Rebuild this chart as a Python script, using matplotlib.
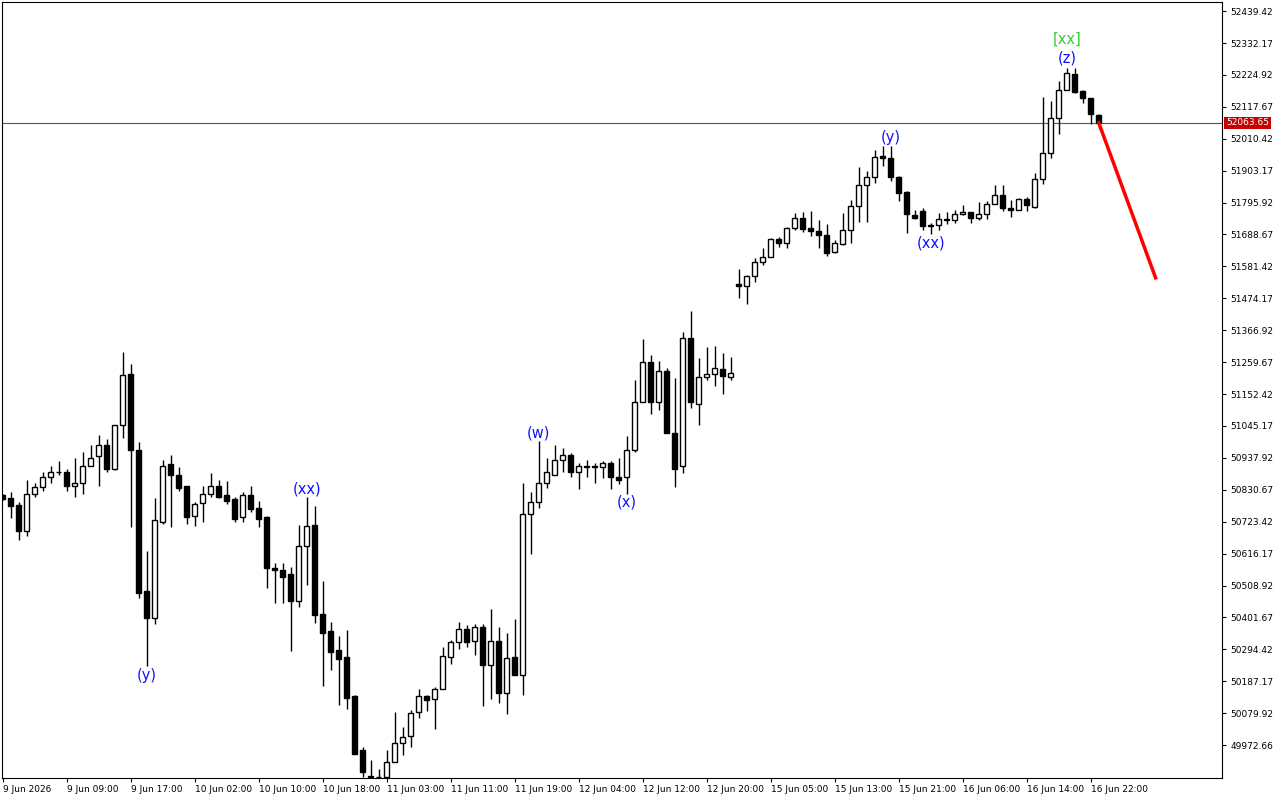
import matplotlib
matplotlib.use("Agg")
import matplotlib.pyplot as plt
from matplotlib.patches import Rectangle

# Hourly candles.
opens = [50812, 50802, 50778, 50691, 50818, 50839, 50875, 50889, 50889, 50845,
         50852, 50912, 50943, 50980, 50899, 51050, 51221, 50966, 50490, 50399,
         50724, 50916, 50882, 50845, 50741, 50785, 50818, 50845, 50812, 50798,
         50738, 50812, 50768, 50738, 50567, 50560, 50547, 50456, 50641, 50711,
         50412, 50355, 50292, 50268, 50137, 49956, 49870, 49864, 49864, 49916,
         49980, 50003, 50083, 50137, 50127, 50161, 50268, 50318, 50362, 50322,
         50369, 50241, 50322, 50147, 50268, 50208, 50748, 50788, 50852, 50879,
         50932, 50946, 50892, 50912, 50912, 50906, 50919, 50875, 50872, 50966,
         51124, 51261, 51127, 51231, 51023, 50912, 51342, 51120, 51211, 51221,
         51238, 51211, 51523, 51516, 51550, 51597, 51614, 51674, 51661, 51711,
         51745, 51711, 51701, 51688, 51631, 51657, 51704, 51785, 51855, 51882,
         51953, 51946, 51882, 51832, 51755, 51768, 51721, 51721, 51741, 51738,
         51758, 51765, 51745, 51758, 51792, 51822, 51778, 51772, 51808, 51782,
         51876, 51963, 52080, 52174, 52228, 52171, 52148, 52090]
highs = [50815, 50822, 50788, 50862, 50855, 50889, 50912, 50929, 50899, 50939,
         50956, 50980, 51016, 51000, 51050, 51295, 51255, 50990, 50624, 50802,
         50932, 50946, 50906, 50845, 50788, 50845, 50886, 50862, 50859, 50805,
         50822, 50842, 50792, 50741, 50584, 50584, 50570, 50711, 50808, 50775,
         50523, 50386, 50339, 50359, 50141, 49966, 49922, 49892, 49956, 50083,
         50033, 50090, 50161, 50141, 50167, 50302, 50325, 50386, 50376, 50379,
         50379, 50429, 50369, 50349, 50396, 50855, 50822, 50996, 50939, 50980,
         50970, 50953, 50919, 50932, 50922, 50929, 50929, 50936, 51013, 51198,
         51339, 51285, 51265, 51241, 51208, 51362, 51433, 51275, 51312, 51315,
         51292, 51278, 51574, 51553, 51610, 51644, 51678, 51681, 51715, 51761,
         51765, 51768, 51738, 51725, 51671, 51761, 51805, 51916, 51902, 51973,
         51986, 51986, 51886, 51835, 51771, 51778, 51728, 51761, 51765, 51772,
         51788, 51765, 51798, 51802, 51855, 51855, 51805, 51812, 51815, 51896,
         52151, 52137, 52204, 52248, 52248, 52174, 52148, 52094]
lows = [50795, 50735, 50661, 50674, 50805, 50828, 50852, 50879, 50828, 50808,
        50818, 50912, 50845, 50892, 50896, 51006, 50704, 50466, 50238, 50379,
        50714, 50704, 50825, 50714, 50708, 50721, 50805, 50802, 50782, 50724,
        50724, 50755, 50704, 50500, 50449, 50449, 50288, 50436, 50510, 50382,
        50171, 50224, 50107, 50094, 49942, 49864, 49864, 49864, 49864, 49916,
        49939, 49966, 50063, 50087, 50026, 50161, 50245, 50295, 50302, 50275,
        50104, 50127, 50114, 50077, 50208, 50141, 50614, 50768, 50835, 50879,
        50892, 50875, 50832, 50875, 50852, 50869, 50832, 50849, 50818, 50956,
        51124, 51084, 51100, 51020, 50839, 50886, 51104, 51050, 51198, 51181,
        51154, 51201, 51476, 51456, 51530, 51587, 51614, 51647, 51644, 51704,
        51698, 51684, 51644, 51617, 51627, 51654, 51661, 51731, 51731, 51862,
        51919, 51869, 51802, 51694, 51741, 51704, 51691, 51704, 51725, 51728,
        51755, 51728, 51738, 51741, 51792, 51768, 51748, 51772, 51768, 51778,
        51859, 51946, 52027, 52174, 52164, 52131, 52060, 52043]
closes = [50798, 50775, 50691, 50818, 50839, 50875, 50889, 50892, 50845, 50855,
          50912, 50939, 50980, 50899, 51050, 51218, 50963, 50483, 50399, 50728,
          50912, 50882, 50835, 50738, 50782, 50818, 50845, 50808, 50792, 50731,
          50812, 50765, 50731, 50567, 50560, 50537, 50456, 50641, 50708, 50409,
          50349, 50285, 50261, 50131, 49942, 49882, 49866, 49867, 49916, 49980,
          50000, 50080, 50137, 50124, 50161, 50271, 50318, 50362, 50318, 50369,
          50241, 50322, 50147, 50265, 50208, 50748, 50788, 50855, 50889, 50932,
          50946, 50892, 50909, 50906, 50906, 50919, 50872, 50865, 50963, 51124,
          51261, 51127, 51231, 51020, 50899, 51342, 51124, 51211, 51221, 51241,
          51214, 51224, 51516, 51550, 51597, 51614, 51674, 51661, 51711, 51745,
          51708, 51701, 51688, 51627, 51661, 51704, 51785, 51855, 51882, 51949,
          51946, 51882, 51829, 51758, 51745, 51718, 51718, 51741, 51738, 51758,
          51765, 51745, 51758, 51792, 51822, 51778, 51772, 51808, 51788, 51876,
          51963, 52080, 52174, 52231, 52168, 52148, 52094, 52063.65]

time_labels = ["9 Jun 2026", "9 Jun 09:00", "9 Jun 17:00", "10 Jun 02:00",
               "10 Jun 10:00", "10 Jun 18:00", "11 Jun 03:00", "11 Jun 11:00",
               "11 Jun 19:00", "12 Jun 04:00", "12 Jun 12:00", "12 Jun 20:00",
               "15 Jun 05:00", "15 Jun 13:00", "15 Jun 21:00", "16 Jun 06:00",
               "16 Jun 14:00", "16 Jun 22:00"]
price_ticks = [52439.42, 52332.17, 52224.92, 52117.67, 52010.42, 51903.17,
               51795.92, 51688.67, 51581.42, 51474.17, 51366.92, 51259.67,
               51152.42, 51045.17, 50937.92, 50830.67, 50723.42, 50616.17,
               50508.92, 50401.67, 50294.42, 50187.17, 50079.92, 49972.66]
last_price = 52063.65

# wave labels: (bar index, price, text, colour)
wave_labels = [
    (18, 50208, "(y)", "#1010ff"),
    (38, 50832, "(xx)", "#1010ff"),
    (67, 51023, "(w)", "#1010ff"),
    (78, 50788, "(x)", "#1010ff"),
    (111, 52013, "(y)", "#1010ff"),
    (116, 51661, "(xx)", "#1010ff"),
    (133, 52282, "(z)", "#1010ff"),
    (133, 52345, "[xx]", "#33cc33"),
]
# projected move
forecast_x = [137, 144.1]
forecast_y = [52063.65, 51543]

fig = plt.figure(figsize=(12.8, 8), dpi=100)
ax = fig.add_axes([2 / 1280, 22 / 800, 1220 / 1280, 776 / 800])

body_w = 0.62
for i in range(len(opens)):
    o, h, l, c = opens[i], highs[i], lows[i], closes[i]
    top, bot = max(o, c), min(o, c)
    ax.vlines(i, l, bot, color="black", lw=1, zorder=2)
    ax.vlines(i, top, h, color="black", lw=1, zorder=2)
    face = "white" if c >= o else "black"
    ax.add_patch(Rectangle((i - body_w / 2, bot), body_w, max(top - bot, 1.0),
                           facecolor=face, edgecolor="black", lw=1, zorder=3))

ax.axhline(last_price, color="#555555", lw=0.8, zorder=1)
ax.plot(forecast_x, forecast_y, color="red", lw=2.5, zorder=4)

for i, p, txt, col in wave_labels:
    ax.text(i, p, txt, color=col, fontsize=10.5, ha="center", va="center", zorder=5)

ax.set_xlim(-0.1, 152.4)
ax.set_ylim(49862, 52470)

ax.set_xticks(range(0, 8 * len(time_labels), 8))
ax.set_xticklabels(time_labels, fontsize=6.5, ha="left")
ax.tick_params(axis="x", length=3, width=0.8, pad=2)

ax.yaxis.tick_right()
ax.set_yticks(price_ticks)
ax.set_yticklabels([f"{v:.2f}" for v in price_ticks], fontsize=6.5)
ax.tick_params(axis="y", length=3, width=0.8, pad=3)

for s in ax.spines.values():
    s.set_linewidth(0.8)

ax.text(1.0035, last_price, f"{last_price:.2f}", transform=ax.get_yaxis_transform(),
        fontsize=6.5, color="white", ha="left", va="center", zorder=6,
        bbox=dict(boxstyle="square,pad=0.2", facecolor="#c80000", edgecolor="none"))

fig.savefig("out.png", dpi=100)
